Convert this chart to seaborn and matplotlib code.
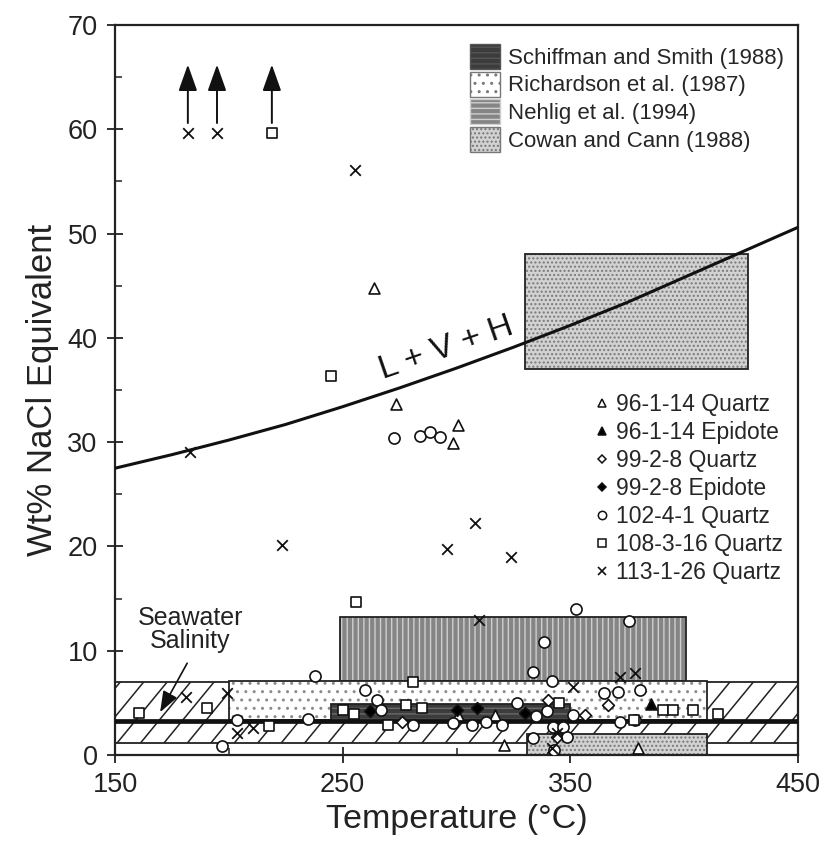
import matplotlib
matplotlib.use('Agg')
import matplotlib.pyplot as plt
import seaborn as sns
import pandas as pd
import numpy as np
from matplotlib.patches import Rectangle, Patch
from matplotlib.lines import Line2D

# L + V + H saturation curve
lvh_temp = [150, 175, 200, 225, 250, 275, 300, 325, 350, 375, 400, 425, 450]
lvh_salt = [27.5, 28.8, 30.2, 31.7, 33.4, 35.2, 37.1, 39.1, 41.2, 43.4, 45.8, 48.2, 50.6]

# literature fields: [t_min, t_max, s_min, s_max]
schiffman_box = [245, 350, 3.2, 4.9]
richardson_box = [200, 410, 3.4, 7.1]
nehlig_box = [249, 401, 7.1, 13.2]
cowan_box_hi = [330, 428, 37.0, 48.0]
cowan_box_lo = [331, 410, 0.0, 2.0]

# seawater salinity band
seawater_salt = 3.3
seawater_band = [1.15, 7.0]

# fluid inclusion data, (temperature, wt% NaCl)
q96_t = [263.7, 273.4, 300.6, 298.4, 300.6, 317.0, 321.0, 379.7]
q96_s = [44.8, 33.7, 31.6, 29.9, 3.8, 3.8, 1.0, 0.7]

e96_t = [385.5]
e96_s = [4.9]

q99_t = [366.5, 340.0, 276.0, 356.4, 344.0]
q99_s = [4.8, 5.3, 3.2, 3.8, 1.7]

e99_t = [262.0, 300.0, 309.0, 330.0]
e99_s = [4.2, 4.3, 4.5, 4.0]

q102_t = [272.5, 284.0, 288.3, 292.7, 352.5, 375.7, 338.4, 238.0, 333.6, 342.0,
          259.8, 265.0, 365.0, 371.0, 380.6, 267.0, 326.5, 339.7, 335.0, 351.0,
          234.8, 281.0, 298.4, 307.0, 313.0, 320.0, 342.4, 346.8, 371.8, 378.4,
          348.5, 333.6, 197.0, 203.6, 343.0]
q102_s = [30.4, 30.6, 31.0, 30.5, 14.0, 12.85, 10.8, 7.6, 8.0, 7.1,
          6.2, 5.3, 5.9, 6.0, 6.2, 4.3, 5.0, 4.2, 3.7, 3.8,
          3.5, 2.9, 3.1, 2.9, 3.2, 2.9, 2.7, 2.7, 3.2, 3.4,
          1.7, 1.6, 0.9, 3.4, 0.5]

q108_t = [218.9, 245.0, 256.0, 281.0, 250.0, 255.0, 278.0, 285.0, 345.0, 270.0,
          160.5, 190.4, 217.6, 390.7, 395.0, 404.0, 415.0, 378.0]
q108_s = [59.6, 36.3, 14.7, 7.0, 4.3, 3.9, 4.8, 4.5, 5.0, 2.9,
          4.0, 4.5, 2.8, 4.3, 4.3, 4.3, 3.9, 3.4]

q113_t = [182.0, 194.8, 255.4, 183.0, 223.5, 295.8, 308.0, 324.0, 310.0, 351.0,
          371.8, 378.4, 181.0, 199.0, 210.7, 203.5, 344.0, 342.0]
q113_s = [59.6, 59.6, 56.1, 29.1, 20.1, 19.8, 22.2, 19.0, 12.9, 6.5,
          7.5, 7.9, 5.6, 5.9, 2.6, 2.1, 2.1, 0.7]

# values off scale (arrows pointing up)
arrow_t = [182.0, 194.8, 218.9]

sample_names = ['96-1-14 Quartz', '96-1-14 Epidote', '99-2-8 Quartz', '99-2-8 Epidote',
                '102-4-1 Quartz', '108-3-16 Quartz', '113-1-26 Quartz']
field_names = ['Schiffman and Smith (1988)', 'Richardson et al. (1987)',
               'Nehlig et al. (1994)', 'Cowan and Cann (1988)']

rows = []
for name, ts, ss in zip(sample_names,
                        [q96_t, e96_t, q99_t, e99_t, q102_t, q108_t, q113_t],
                        [q96_s, e96_s, q99_s, e99_s, q102_s, q108_s, q113_s]):
    for t, s in zip(ts, ss):
        rows.append({'sample': name, 'temp': t, 'salt': s})
df = pd.DataFrame(rows)

# marker style per sample: (marker, facecolor, size)
styles = {
    '96-1-14 Quartz': ('^', 'white', 62),
    '96-1-14 Epidote': ('^', 'black', 62),
    '99-2-8 Quartz': ('D', 'white', 36),
    '99-2-8 Epidote': ('D', 'black', 36),
    '102-4-1 Quartz': ('o', 'white', 64),
    '108-3-16 Quartz': ('s', 'white', 52),
    '113-1-26 Quartz': ('x', 'black', 58),
}

sns.set_style('ticks')
plt.rcParams['font.family'] = ['Liberation Sans', 'DejaVu Sans']
plt.rcParams['hatch.linewidth'] = 1.0

fig = plt.figure(figsize=(8.21, 8.47), dpi=100)
ax = fig.add_axes([115 / 821, 92 / 847, 683 / 821, 730 / 847])


def box(ext, face, hatch, hcolor, z):
    t0, t1, s0, s1 = ext
    ax.add_patch(Rectangle((t0, s0), t1 - t0, s1 - s0, facecolor=face, hatch=hatch,
                           edgecolor=hcolor, linewidth=0, zorder=z))
    ax.add_patch(Rectangle((t0, s0), t1 - t0, s1 - s0, fill=False,
                           edgecolor='#222222', linewidth=1.3, zorder=z + 0.05))


# seawater band with sparse diagonal hatching
band = Rectangle((150, seawater_band[0]), 300, seawater_band[1] - seawater_band[0],
                 facecolor='white', edgecolor='#222222', linewidth=1.3, zorder=1)
ax.add_patch(band)
for t0 in np.arange(120, 460, 10.3):
    ln, = ax.plot([t0, t0 + 22.0], seawater_band, color='#222222', lw=1.1, zorder=1.1)
    ln.set_clip_path(band)

box(nehlig_box, '#858585', '|||', '#cfcfcf', 2)
box(richardson_box, 'white', '..', '#8c8c8c', 2.2)
box(schiffman_box, '#3c3c3c', '---', '#6a6a6a', 2.4)
box(cowan_box_lo, '#d2d2d2', '....', '#7a7a7a', 2.4)
box(cowan_box_hi, '#d2d2d2', '....', '#7a7a7a', 2.4)

ax.plot([150, 450], [seawater_salt, seawater_salt], color='#111111', lw=3.4, zorder=3)

# L + V + H curve
sns.lineplot(x=lvh_temp, y=lvh_salt, ax=ax, color='#111111', lw=2.2, zorder=4,
             estimator=None, sort=False)
ax.text(268.5, 35.4, 'L + V + H', fontsize=24, rotation=19, rotation_mode='anchor',
        ha='left', va='bottom', color='#111111', zorder=4)

for name in sample_names:
    m, fc, size = styles[name]
    sub = df[df['sample'] == name]
    if m == 'x':
        sns.scatterplot(data=sub, x='temp', y='salt', marker=m, s=size, color='#111111',
                        linewidth=1.3, ax=ax, legend=False, zorder=5)
    else:
        sns.scatterplot(data=sub, x='temp', y='salt', marker=m, s=size, facecolor=fc,
                        edgecolor='#111111', linewidth=1.2, ax=ax, legend=False, zorder=5)

for t in arrow_t:
    ax.annotate('', xy=(t, 66.2), xytext=(t, 60.6),
                arrowprops=dict(arrowstyle='-|>,head_length=0.9,head_width=0.32',
                                lw=1.4, color='#111111', shrinkA=0, shrinkB=0,
                                mutation_scale=18), zorder=5)

ax.text(183, 12.0, 'Seawater\nSalinity', fontsize=18, ha='center', va='center',
        linespacing=0.95, color='#222222', zorder=5)
ax.annotate('', xy=(169.8, 4.1), xytext=(181.7, 8.8),
            arrowprops=dict(arrowstyle='-|>,head_length=0.8,head_width=0.3', lw=1.2,
                            color='#111111', shrinkA=0, shrinkB=0, mutation_scale=16),
            zorder=5)

ax.set_xlim(150, 450)
ax.set_ylim(0, 70)
ax.set_xticks([150, 250, 350, 450])
ax.set_xticks([200, 300, 400], minor=True)
ax.set_yticks(range(0, 71, 10))
ax.set_yticks(range(5, 70, 10), minor=True)
ax.tick_params(which='major', direction='inout', length=11, width=1.3, labelsize=19.5,
               pad=7, colors='#222222')
ax.tick_params(which='minor', direction='in', length=5, width=1.1, colors='#222222')
for sp in ax.spines.values():
    sp.set_linewidth(1.6)
    sp.set_color('#222222')

ax.set_xlabel('Temperature (°C)', fontsize=24.5, labelpad=4, color='#222222')
ax.set_ylabel('Wt% NaCl Equivalent', fontsize=25, labelpad=6, color='#222222')

# legends
field_handles = [
    Patch(facecolor='#3c3c3c', edgecolor='#555555', hatch='---'),
    Patch(facecolor='white', edgecolor='#777777', hatch='..'),
    Patch(facecolor='#858585', edgecolor='#cfcfcf', hatch='---'),
    Patch(facecolor='#d2d2d2', edgecolor='#777777', hatch='....'),
]
leg1 = ax.legend(field_handles, field_names, loc='upper left',
                 bbox_to_anchor=((470 - 115) / 683, (755 - 44) / 730), frameon=False,
                 fontsize=16, handlelength=1.35, handleheight=1.35, handletextpad=0.35,
                 labelspacing=0.12, borderaxespad=0, borderpad=0)
ax.add_artist(leg1)

sample_handles = []
for name in sample_names:
    m, fc, size = styles[name]
    if m == 'x':
        sample_handles.append(Line2D([], [], marker='x', linestyle='none', color='#111111',
                                     markersize=6, markeredgewidth=1.2))
    else:
        sample_handles.append(Line2D([], [], marker=m, linestyle='none', markerfacecolor=fc,
                                     markeredgecolor='#111111',
                                     markersize=6 if m != 'D' else 4.5,
                                     markeredgewidth=1.1))
ax.legend(sample_handles, sample_names, loc='upper left',
          bbox_to_anchor=((595 - 115) / 683, (755 - 393) / 730), frameon=False,
          fontsize=16.5, handlelength=0.6, handletextpad=0.3, labelspacing=0.22,
          borderaxespad=0, borderpad=0)

plt.savefig('out.png', dpi=100)
